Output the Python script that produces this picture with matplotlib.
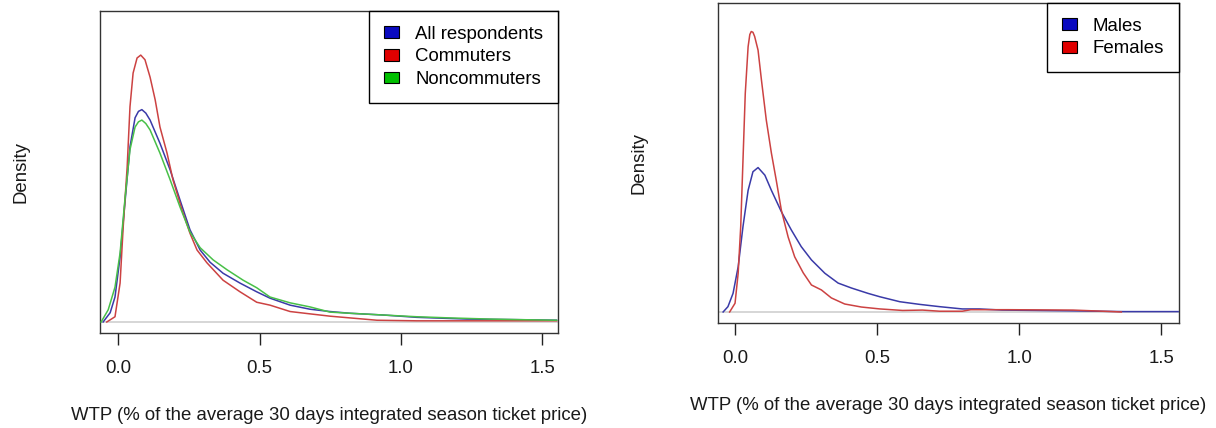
import matplotlib
matplotlib.use("Agg")
import matplotlib.pyplot as plt
from matplotlib.patches import Patch

plt.rcParams['font.family'] = ['Liberation Sans', 'DejaVu Sans']
fs = 13.4

# ---- left panel: all / commuters / noncommuters (density estimates)
all_x = [-0.053, -0.028, -0.011, 0.007, 0.025, 0.042, 0.06, 0.072, 0.084, 0.098, 0.113, 0.148, 0.184,
         0.219, 0.254, 0.29, 0.325, 0.371, 0.431, 0.49, 0.537, 0.608, 0.678, 0.749,
         0.82, 0.937, 1.056, 1.233, 1.41, 1.55]
all_y = [0.0, 0.16, 0.43, 1.12, 2.10, 3.02, 3.52, 3.63, 3.66, 3.60, 3.48, 3.08, 2.62,
         2.10, 1.59, 1.24, 1.03, 0.84, 0.67, 0.52, 0.41, 0.29, 0.22, 0.18,
         0.15, 0.12, 0.08, 0.05, 0.04, 0.03]

com_x = [-0.04, -0.011, 0.007, 0.018, 0.032, 0.042, 0.053, 0.067, 0.08, 0.095, 0.113,
         0.131, 0.148, 0.173, 0.194, 0.226, 0.254, 0.279, 0.314, 0.371, 0.431, 0.49,
         0.537, 0.608, 0.678, 0.749, 0.82, 0.915, 1.056, 1.29, 1.55]
com_y = [0.0, 0.09, 0.67, 1.64, 2.67, 3.71, 4.29, 4.55, 4.60, 4.52, 4.22,
         3.83, 3.36, 2.91, 2.45, 1.93, 1.53, 1.24, 1.02, 0.72, 0.52, 0.34,
         0.29, 0.18, 0.14, 0.10, 0.07, 0.03, 0.02, 0.02, 0.02]

non_x = [-0.06, -0.035, -0.011, 0.007, 0.025, 0.042, 0.06, 0.072, 0.084, 0.098, 0.113, 0.148, 0.184,
         0.219, 0.254, 0.29, 0.336, 0.385, 0.442, 0.49, 0.537, 0.608, 0.678, 0.749,
         0.82, 0.937, 1.056, 1.173, 1.314, 1.42, 1.55]
non_y = [0.0, 0.21, 0.60, 1.19, 2.16, 2.97, 3.36, 3.45, 3.48, 3.42, 3.31, 2.91, 2.45,
         1.98, 1.55, 1.28, 1.07, 0.90, 0.72, 0.59, 0.43, 0.33, 0.26, 0.17,
         0.15, 0.12, 0.09, 0.07, 0.05, 0.04, 0.03]

# ---- right panel: males / females
male_x = [-0.042, -0.025, -0.007, 0.011, 0.028, 0.046, 0.063, 0.081, 0.105, 0.128, 0.163,
          0.198, 0.233, 0.269, 0.316, 0.363, 0.41, 0.468, 0.51, 0.58, 0.65, 0.72,
          0.80, 0.86, 0.94, 1.06, 1.18, 1.37, 1.56]
male_y = [0.0, 0.14, 0.49, 1.19, 2.25, 3.20, 3.69, 3.80, 3.60, 3.20, 2.64,
          2.16, 1.72, 1.37, 1.02, 0.76, 0.63, 0.49, 0.40, 0.27, 0.20, 0.14,
          0.08, 0.08, 0.05, 0.04, 0.03, 0.01, 0.01]

fem_x = [-0.019, 0.0, 0.011, 0.02, 0.028, 0.036, 0.046, 0.052, 0.057, 0.063, 0.069, 0.081, 0.093,
         0.11, 0.128, 0.145, 0.163, 0.187, 0.21, 0.24, 0.269, 0.304, 0.339, 0.386,
         0.445, 0.51, 0.59, 0.66, 0.72, 0.80, 0.83, 0.96, 1.19, 1.33, 1.36]
fem_y = [0.0, 0.23, 1.02, 2.25, 4.00, 5.75, 6.98, 7.30, 7.38, 7.36, 7.25, 6.89, 6.10,
         5.05, 4.18, 3.47, 2.68, 1.97, 1.45, 1.03, 0.71, 0.58, 0.37, 0.21,
         0.13, 0.08, 0.04, 0.05, 0.02, 0.02, 0.06, 0.06, 0.05, 0.01, 0.0]

xticks = [0.0, 0.5, 1.0, 1.5]
xlab = "WTP (% of the average 30 days integrated season ticket price)"

c_blue, c_red, c_green = '#3a3aa8', '#cc4242', '#48c048'
f_blue, f_red, f_green = '#0a0ac0', '#e00000', '#00c000'

fig = plt.figure(figsize=(12.16, 4.28), dpi=100)
W, H = 1216, 428
axL = fig.add_axes([100 / W, 1 - 333 / H, 458 / W, 322 / H])
axR = fig.add_axes([718 / W, 1 - 323 / H, 461 / W, 320 / H])


def style(ax, xlim, ylim, hpx, wpx):
    ax.axhline(0, color='#cfcfcf', lw=1.2, zorder=1)
    ax.set_xlim(*xlim)
    ax.set_ylim(*ylim)
    ax.set_xticks(xticks)
    ax.set_xticklabels(["%.1f" % t for t in xticks])
    ax.set_yticks([])
    ax.tick_params(axis='x', length=8.6, width=1, pad=10.6, labelsize=fs,
                   color='#222222', labelcolor='#1a1a1a')
    for s in ax.spines.values():
        s.set_color('#333333')
        s.set_linewidth(1)
    ax.set_xlabel(xlab, fontsize=fs, va='center', color='#1a1a1a')
    ax.xaxis.set_label_coords(0.5, -82 / hpx)
    ax.set_ylabel("Density", fontsize=fs, va='center', color='#1a1a1a')
    ax.yaxis.set_label_coords(-79 / wpx, 0.5)


def legend(ax, cols, labels):
    hs = [Patch(facecolor=c, edgecolor='black', lw=0.8) for c in cols]
    leg = ax.legend(hs, labels, loc='upper right', bbox_to_anchor=(1, 1), borderaxespad=0,
                    fontsize=fs, fancybox=False, framealpha=1, edgecolor='black',
                    handlelength=0.8, handleheight=0.6, handletextpad=0.86,
                    borderpad=0.8, labelspacing=0.3)
    leg.get_frame().set_linewidth(1)


style(axL, (-0.064, 1.555), (-0.19, 5.36), 322, 458)
axL.plot(all_x, all_y, color=c_blue, lw=1.1, zorder=3)
axL.plot(com_x, com_y, color=c_red, lw=1.1, zorder=3)
axL.plot(non_x, non_y, color=c_green, lw=1.1, zorder=3)
legend(axL, [f_blue, f_red, f_green], ["All respondents", "Commuters", "Noncommuters"])

style(axR, (-0.06, 1.563), (-0.29, 8.13), 320, 461)
axR.plot(male_x, male_y, color=c_blue, lw=1.1, zorder=3)
axR.plot(fem_x, fem_y, color=c_red, lw=1.1, zorder=3)
legend(axR, [f_blue, f_red], ["Males", "Females"])

fig.savefig("out.png", dpi=100)
